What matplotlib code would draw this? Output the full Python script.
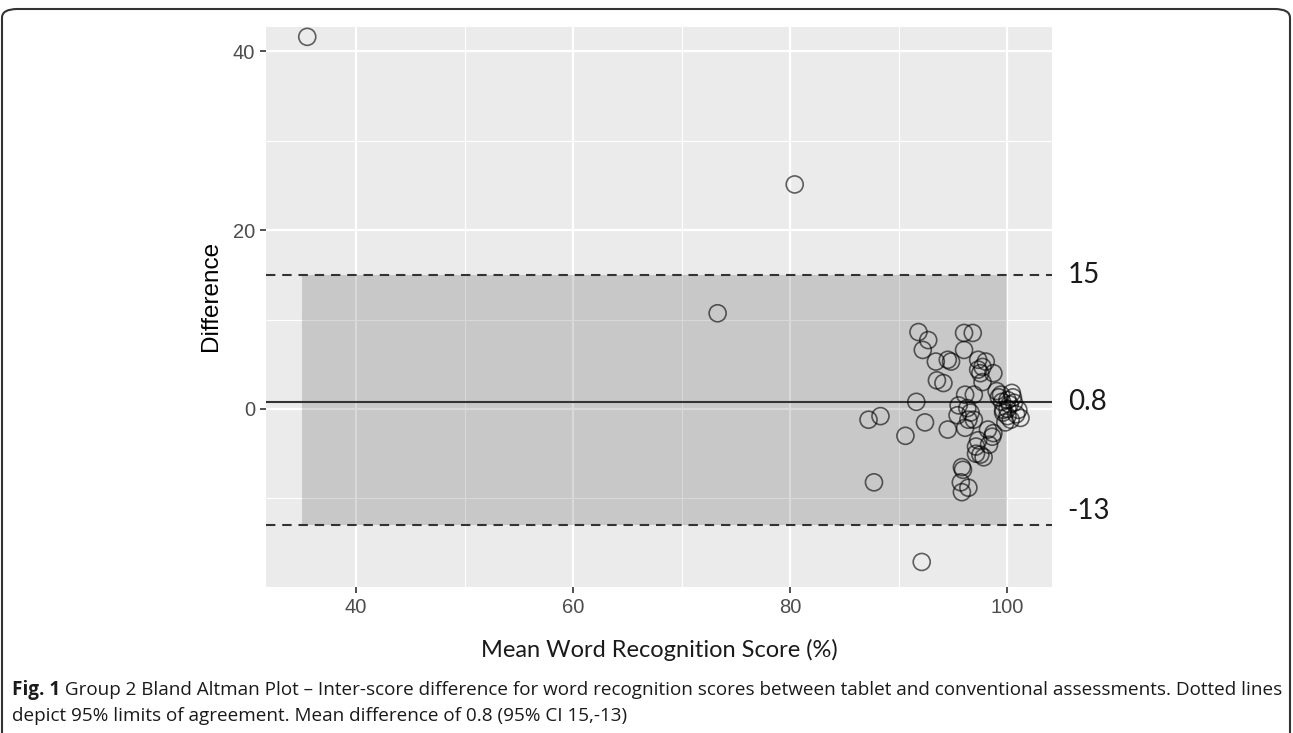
import numpy as np
import matplotlib
matplotlib.use('Agg')
import matplotlib.pyplot as plt
from matplotlib import font_manager
from matplotlib.patches import Rectangle, FancyBboxPatch

# ---- data ----
mean_score = [35.5, 80.4, 73.3, 92.1, 87.7, 87.2, 88.3, 90.6, 91.6, 92.4,
              91.8, 92.7, 92.2, 93.4, 94.5, 94.8, 93.5, 94.1, 94.5, 96.0,
              96.8, 96.0, 95.8, 95.7, 95.8, 96.4, 96.1, 96.9, 95.5, 95.4,
              96.4, 96.3, 96.1, 97.3, 97.7, 98.0, 97.3, 98.7, 97.7, 97.5,
              97.3, 97.5, 97.8, 98.2, 98.6, 98.3, 98.7, 97.1, 96.6, 96.9,
              99.4, 99.6, 100.0, 99.2, 99.6, 100.6, 101.0, 100.3, 100.0, 100.5,
              99.8, 101.2, 100.2, 99.5, 100.8, 100.0, 99.0, 100.4, 95.9, 97.1]
difference = [41.6, 25.1, 10.7, -17.1, -8.2, -1.2, -0.8, -3.0, 0.8, -1.5,
              8.6, 7.7, 6.6, 5.3, 5.5, 5.3, 3.2, 2.9, -2.3, 8.5,
              8.5, 6.6, -6.5, -8.2, -9.3, -8.8, 1.6, 1.6, 0.4, -0.7,
              -1.2, 0.1, -2.1, 5.5, 4.7, 5.3, 4.4, 4.0, 3.0, 4.0,
              -3.5, -5.1, -5.4, -2.3, -3.1, -4.0, -2.7, -4.2, -0.4, -1.2,
              1.6, -0.1, 1.0, 1.3, -0.4, 0.7, -0.1, -1.2, 0.0, 1.3,
              -1.5, -1.0, 0.5, 0.8, -0.6, -0.8, 2.0, 1.8, -6.8, -5.0]

mean_diff = 0.8
upper_loa = 15
lower_loa = -13
band_x = [35.0, 100.0]
loa_labels = ['15', '0.8', '-13']
loa_label_y = [15, 0.8, -11.4]

x_ticks = [40, 60, 80, 100]
x_minor = [50, 70, 90]
y_ticks = [0, 20, 40]
y_minor = [-10, 10, 30]

caption_bold = 'Fig. 1'
caption_line1 = (' Group 2 Bland Altman Plot \u2013 Inter-score difference for word recognition '
                 'scores between tablet and conventional assessments. Dotted lines')
caption_line2 = 'depict 95% limits of agreement. Mean difference of 0.8 (95% CI 15,-13)'

# ---- fonts ----
available = {f.name for f in font_manager.fontManager.ttflist}
narrow = 'Liberation Sans Narrow' if 'Liberation Sans Narrow' in available else 'Open Sans'

W, H = 1293, 733
fig = plt.figure(figsize=(W / 100, H / 100), dpi=100)
ax = fig.add_axes([266 / W, 1 - 587 / H, (1052 - 266) / W, (587 - 27) / H])

ax.set_facecolor('#EBEBEB')
for s in ax.spines.values():
    s.set_visible(False)

ax.set_xlim(31.7, 104.1)
ax.set_ylim(-19.9, 42.7)

# grid like ggplot
for v in x_ticks:
    ax.axvline(v, color='white', lw=1.6, zorder=0.5)
for v in x_minor:
    ax.axvline(v, color='white', lw=0.8, zorder=0.5)
for v in y_ticks:
    ax.axhline(v, color='white', lw=1.6, zorder=0.5)
for v in y_minor:
    ax.axhline(v, color='white', lw=0.8, zorder=0.5)

# limits-of-agreement band
ax.add_patch(Rectangle((band_x[0], lower_loa), band_x[1] - band_x[0], upper_loa - lower_loa,
                       facecolor='black', alpha=0.15, edgecolor='none', zorder=1))

ax.axhline(mean_diff, color='#333333', lw=1.5, zorder=2)
ax.axhline(upper_loa, color='#333333', lw=1.5, dashes=(4.5, 3.3), zorder=2)
ax.axhline(lower_loa, color='#333333', lw=1.5, dashes=(4.5, 3.3), zorder=2)

ax.scatter(mean_score, difference, s=150, facecolors='none', edgecolors='black',
           linewidths=1.2, alpha=0.6, zorder=3, clip_on=False)

ax.set_xticks(x_ticks)
ax.set_yticks(y_ticks)
ax.tick_params(axis='both', length=4, width=1.2, color='#333333', pad=4,
               labelsize=14.5, labelcolor='#4D4D4D')
for lab in ax.get_xticklabels() + ax.get_yticklabels():
    lab.set_family('Liberation Sans')

for lab, yv in zip(loa_labels, loa_label_y):
    ax.text(1.02, yv, lab, transform=ax.get_yaxis_transform(), ha='left', va='center',
            fontsize=20, family='Lato', color='#1a1a1a')

fig.text(211 / W, 1 - 296 / H, 'Difference', rotation=90, ha='center', va='center',
         fontsize=17.5, family='Liberation Sans', color='black')
fig.text(659 / W, 1 - 650 / H, 'Mean Word Recognition Score (%)', ha='center', va='center',
         fontsize=17, family='Lato', color='#1a1a1a')

# caption, sized so the first line ends where the reference's does
cap_fs = 14
t_bold = fig.text(12 / W, 1 - 690 / H, caption_bold, ha='left', va='center', fontsize=cap_fs,
                  family=narrow, weight='bold', color='#1a1a1a')
t_l1 = fig.text(0, 1 - 690 / H, caption_line1, ha='left', va='center', fontsize=cap_fs,
                family=narrow, color='#1a1a1a')
t_l2 = fig.text(12 / W, 1 - 716 / H, caption_line2, ha='left', va='center', fontsize=cap_fs,
                family=narrow, color='#1a1a1a')
for _ in range(3):
    fig.canvas.draw()
    bb = t_bold.get_window_extent()
    t_l1.set_x(bb.x1 / W)
    fig.canvas.draw()
    right = t_l1.get_window_extent().x1
    cap_fs = cap_fs * (1280 - 12) / (right - 12)
    for t in (t_bold, t_l1, t_l2):
        t.set_fontsize(cap_fs)
fig.canvas.draw()
t_l1.set_x(t_bold.get_window_extent().x1 / W)

# figure frame with rounded top corners
frame = FancyBboxPatch((2 / W, -0.1), (1290 - 2) / W, 1.1 - 9 / H,
                       boxstyle='round,pad=0,rounding_size=0.012',
                       transform=fig.transFigure, facecolor='none',
                       edgecolor='#333333', lw=1.5)
fig.patches.append(frame)

fig.savefig('out.png', dpi=100)
